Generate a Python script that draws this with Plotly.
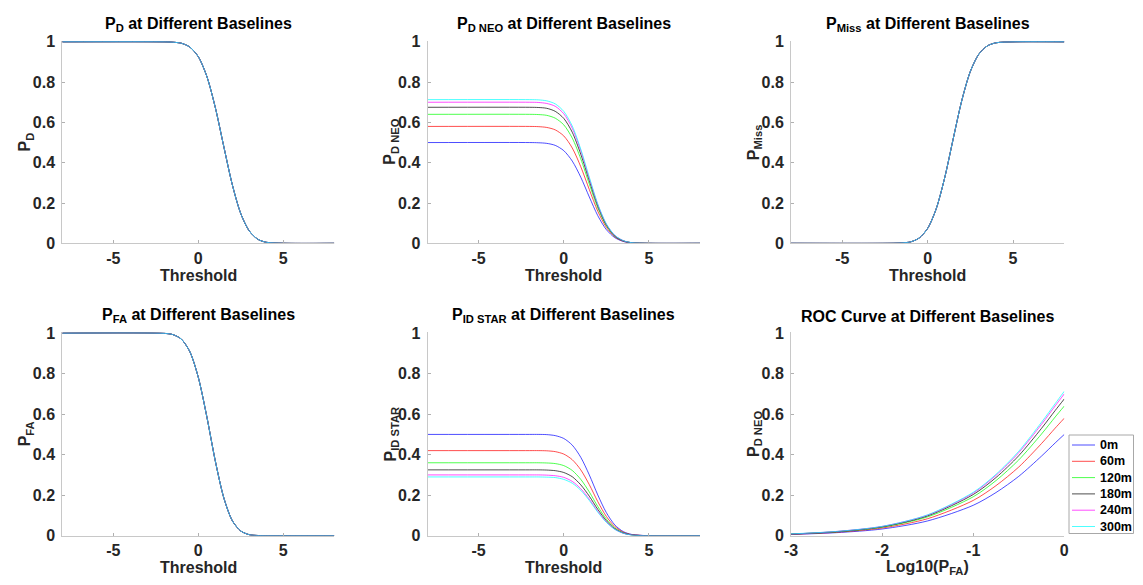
import plotly.graph_objects as go

W, H = 1135, 577   # figure size; the page places it 8px from the top-left corner
OFF = 8
FONT = "Liberation Sans, Arial, sans-serif"

# ---------------- data ----------------
baselines = ["0m", "60m", "120m", "180m", "240m", "300m"]
colors = ["#0000ff", "#ff0000", "#00ff00", "#000000", "#ff00ff", "#00ffff"]

threshold = [-8, -2, -1.5, -1, -0.5, 0, 0.5, 1, 1.5, 2, 2.5, 3, 3.5, 4, 5, 8]

# P_D (identical for all baselines)
p_d = [1, 0.9997, 0.998, 0.993, 0.974, 0.926, 0.829, 0.674, 0.480, 0.291, 0.147, 0.061, 0.020, 0.005, 0.0002, 0]
# P_Miss (identical for all baselines)
p_miss = [0, 0.0003, 0.002, 0.007, 0.026, 0.074, 0.171, 0.326, 0.520, 0.709, 0.853, 0.939, 0.980, 0.995, 0.9998, 1]
# P_FA (identical for all baselines)
p_fa = [1, 0.9987, 0.9927, 0.9706, 0.9088, 0.7817, 0.588, 0.369, 0.187, 0.074, 0.023, 0.005, 0.001, 0.0001, 0, 0]

# P_D NEO per baseline
p_d_neo_0m = [0.500, 0.500, 0.499, 0.496, 0.486, 0.460, 0.408, 0.328, 0.230, 0.137, 0.068, 0.028, 0.009, 0.002, 0.000, 0]
p_d_neo_60m = [0.580, 0.580, 0.579, 0.575, 0.563, 0.533, 0.473, 0.380, 0.267, 0.159, 0.079, 0.032, 0.010, 0.003, 0.000, 0]
p_d_neo_120m = [0.640, 0.640, 0.639, 0.635, 0.621, 0.588, 0.522, 0.419, 0.294, 0.175, 0.087, 0.035, 0.012, 0.003, 0.000, 0]
p_d_neo_180m = [0.675, 0.675, 0.674, 0.670, 0.655, 0.620, 0.551, 0.442, 0.311, 0.185, 0.092, 0.037, 0.012, 0.003, 0.000, 0]
p_d_neo_240m = [0.700, 0.700, 0.699, 0.694, 0.680, 0.643, 0.571, 0.459, 0.322, 0.192, 0.095, 0.039, 0.013, 0.003, 0.000, 0]
p_d_neo_300m = [0.713, 0.713, 0.712, 0.707, 0.692, 0.655, 0.582, 0.467, 0.328, 0.195, 0.097, 0.039, 0.013, 0.003, 0.000, 0]

# P_ID STAR per baseline
p_id_star_0m = [0.500, 0.500, 0.500, 0.499, 0.494, 0.480, 0.447, 0.387, 0.300, 0.201, 0.114, 0.053, 0.020, 0.006, 0.000, 0]
p_id_star_60m = [0.420, 0.420, 0.420, 0.419, 0.415, 0.403, 0.375, 0.325, 0.252, 0.168, 0.095, 0.045, 0.017, 0.005, 0.000, 0]
p_id_star_120m = [0.360, 0.360, 0.360, 0.359, 0.356, 0.346, 0.322, 0.278, 0.216, 0.144, 0.082, 0.038, 0.014, 0.004, 0.000, 0]
p_id_star_180m = [0.325, 0.325, 0.325, 0.324, 0.321, 0.312, 0.291, 0.251, 0.195, 0.130, 0.074, 0.034, 0.013, 0.004, 0.000, 0]
p_id_star_240m = [0.300, 0.300, 0.300, 0.299, 0.296, 0.288, 0.268, 0.232, 0.180, 0.120, 0.068, 0.032, 0.012, 0.004, 0.000, 0]
p_id_star_300m = [0.290, 0.290, 0.290, 0.289, 0.287, 0.278, 0.259, 0.224, 0.174, 0.116, 0.066, 0.031, 0.012, 0.003, 0.000, 0]

# ROC: Log10(P_FA) vs P_D NEO
log_pfa = [-3, -2.5, -2, -1.5, -1, -0.75, -0.5, -0.25, -0.1, 0]
roc_0m = [0.006, 0.015, 0.033, 0.073, 0.150, 0.213, 0.293, 0.393, 0.458, 0.500]
roc_60m = [0.007, 0.017, 0.038, 0.084, 0.174, 0.247, 0.339, 0.455, 0.531, 0.580]
roc_120m = [0.008, 0.019, 0.042, 0.093, 0.192, 0.272, 0.374, 0.502, 0.586, 0.640]
roc_180m = [0.008, 0.020, 0.044, 0.098, 0.203, 0.287, 0.395, 0.530, 0.618, 0.675]
roc_240m = [0.008, 0.021, 0.046, 0.102, 0.210, 0.298, 0.410, 0.550, 0.641, 0.700]
roc_300m = [0.009, 0.021, 0.046, 0.103, 0.214, 0.303, 0.417, 0.560, 0.652, 0.713]

# ticks
thr_tick_vals = [-5, 0, 5]
thr_tick_text = ["-5", "0", "5"]
roc_tick_vals = [-3, -2, -1, 0]
roc_tick_text = ["-3", "-2", "-1", "0"]
y_tick_vals = [0, 0.2, 0.4, 0.6, 0.8, 1]
y_tick_text = ["0", "0.2", "0.4", "0.6", "0.8", "1"]

titles = [
    "P<sub>D</sub> at Different Baselines",
    "P<sub>D NEO</sub> at Different Baselines",
    "P<sub>Miss</sub> at Different Baselines",
    "P<sub>FA</sub> at Different Baselines",
    "P<sub>ID STAR</sub> at Different Baselines",
    "ROC Curve at Different Baselines",
]
ylabels = ["P<sub>D</sub>", "P<sub>D NEO</sub>", "P<sub>Miss</sub>",
           "P<sub>FA</sub>", "P<sub>ID STAR</sub>", "P<sub>D NEO</sub>"]
xlabels = ["Threshold", "Threshold", "Threshold", "Threshold", "Threshold", "Log10(P<sub>FA</sub>)"]

# ---------------- layout geometry (screen pixels) ----------------
col_px = [(62.3, 334.3), (427.5, 700.0), (791.0, 1064.3)]
row_px = [(41.0, 243.3), (332.3, 535.7)]


def px(x):
    return (x - OFF) / W


def py(y):
    return 1 - (y - OFF) / H


fig = go.Figure()

panels = [
    (threshold, [p_d] * 6),
    (threshold, [p_d_neo_0m, p_d_neo_60m, p_d_neo_120m, p_d_neo_180m, p_d_neo_240m, p_d_neo_300m]),
    (threshold, [p_miss] * 6),
    (threshold, [p_fa] * 6),
    (threshold, [p_id_star_0m, p_id_star_60m, p_id_star_120m, p_id_star_180m, p_id_star_240m, p_id_star_300m]),
    (log_pfa, [roc_0m, roc_60m, roc_120m, roc_180m, roc_240m, roc_300m]),
]

FS = 16
tick_font = dict(family=FONT, size=FS, color="#262626", weight="bold")
annotations = []
shapes = []

for i, (xs, series) in enumerate(panels):
    r, c = divmod(i, 3)
    n = i + 1
    xa = "x" if n == 1 else f"x{n}"
    ya = "y" if n == 1 else f"y{n}"
    for k, ys in enumerate(series):
        fig.add_trace(go.Scatter(
            x=xs, y=ys, mode="lines", name=baselines[k],
            line=dict(color=colors[k], width=0.7, shape="spline", smoothing=0.8),
            xaxis=xa, yaxis=ya, showlegend=False, hoverinfo="skip",
        ))
    x0, x1 = col_px[c]
    y0, y1 = row_px[r]
    is_roc = i == 5
    xaxis = dict(
        domain=[px(x0), px(x1)],
        range=[-3, 0] if is_roc else [-8, 8],
        tickvals=roc_tick_vals if is_roc else thr_tick_vals,
        ticktext=roc_tick_text if is_roc else thr_tick_text,
        showline=True, linecolor="#c8c8c8", linewidth=1,
        ticks="inside", ticklen=3, tickcolor="#b0b0b0",
        showgrid=False, zeroline=False, tickfont=tick_font,
        anchor=ya, ticklabelstandoff=0, automargin=False,
    )
    yaxis = dict(
        domain=[py(y1), py(y0)],
        range=[0, 1.004],
        tickvals=y_tick_vals, ticktext=y_tick_text,
        showline=True, linecolor="#c8c8c8", linewidth=1,
        ticks="inside", ticklen=3, tickcolor="#b0b0b0",
        showgrid=False, zeroline=False, tickfont=tick_font,
        anchor=xa, ticklabelstandoff=3, automargin=False,
    )
    fig.update_layout(**{("xaxis" if n == 1 else f"xaxis{n}"): xaxis,
                         ("yaxis" if n == 1 else f"yaxis{n}"): yaxis})
    # title
    annotations.append(dict(
        text=titles[i], xref="paper", yref="paper",
        x=px((x0 + x1) / 2), y=py(y0), xanchor="center", yanchor="bottom",
        yshift=5, showarrow=False,
        font=dict(family=FONT, size=16, color="#000000", weight="bold"),
    ))
    # y label
    annotations.append(dict(
        text=ylabels[i], xref="paper", yref="paper",
        x=px(x0 - 37), y=py((y0 + y1) / 2), xanchor="center", yanchor="middle",
        textangle=-90, showarrow=False,
        font=dict(family=FONT, size=FS, color="#262626", weight="bold"),
    ))
    # x label
    annotations.append(dict(
        text=xlabels[i], xref="paper", yref="paper",
        x=px((x0 + x1) / 2), y=py(y1 + 32), xanchor="center", yanchor="middle",
        showarrow=False,
        font=dict(family=FONT, size=FS, color="#262626", weight="bold"),
    ))

# ---------------- legend (drawn box, entries from baselines/colors) ----------------
leg_left, leg_top, leg_right, leg_bottom = 1069, 435, 1133.5, 533.5
shapes.append(dict(type="rect", xref="paper", yref="paper",
                   x0=px(leg_left), x1=px(leg_right), y0=py(leg_bottom), y1=py(leg_top),
                   line=dict(color="#a8a8a8", width=1), fillcolor="white", layer="above"))
row_h = 16.3
for k, name in enumerate(baselines):
    yc = leg_top + 10 + k * row_h
    shapes.append(dict(type="line", xref="paper", yref="paper",
                       x0=px(leg_left + 3), x1=px(leg_left + 26), y0=py(yc), y1=py(yc),
                       line=dict(color=colors[k], width=0.7), layer="above"))
    annotations.append(dict(
        text=name, xref="paper", yref="paper", x=px(leg_left + 28.5), y=py(yc),
        xanchor="left", yanchor="middle", showarrow=False,
        font=dict(family=FONT, size=12.5, color="#000000", weight="bold"),
    ))

fig.update_layout(
    width=W, height=H,
    margin=dict(l=0, r=0, t=0, b=0),
    paper_bgcolor="white", plot_bgcolor="white",
    annotations=annotations, shapes=shapes,
    showlegend=False,
)

fig.write_html("out.html")
